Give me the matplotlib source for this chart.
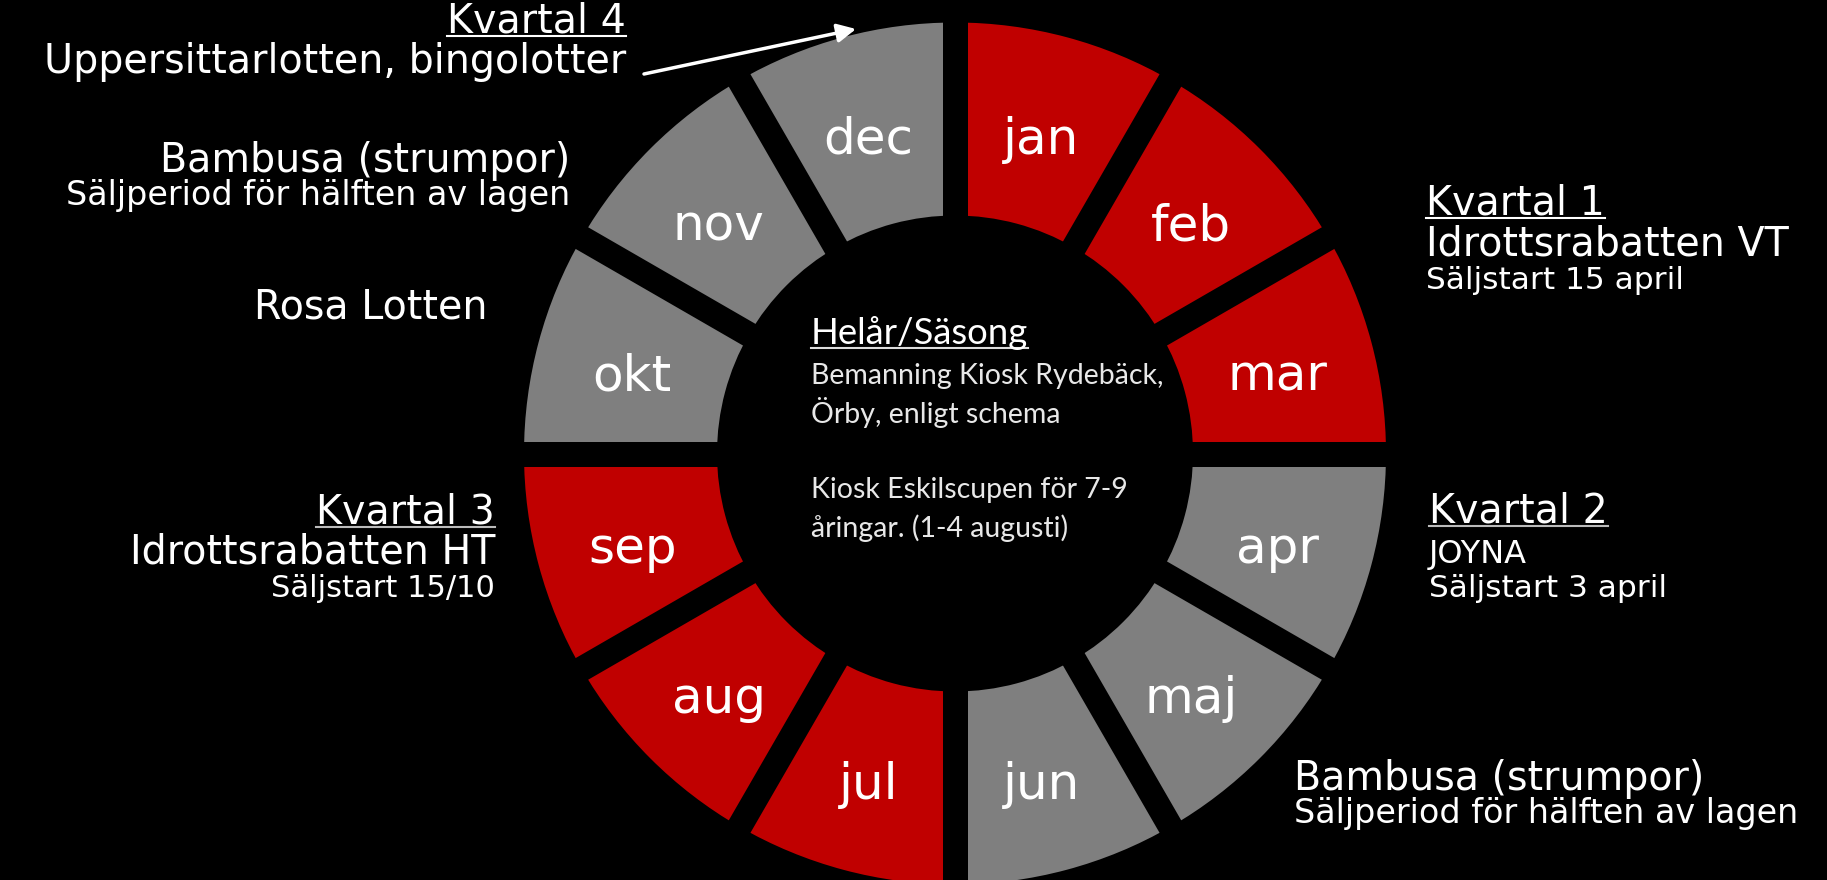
import matplotlib
matplotlib.use("Agg")
import matplotlib.pyplot as plt
import numpy as np

# ---- data ----
months = ["jan", "feb", "mar", "apr", "maj", "jun",
          "jul", "aug", "sep", "okt", "nov", "dec"]
month_share = [1, 1, 1, 1, 1, 1, 1, 1, 1, 1, 1, 1]
quarter = [1, 1, 1, 2, 2, 2, 3, 3, 3, 4, 4, 4]

center_title = "Helår/Säsong"
center_lines = ["Bemanning Kiosk Rydebäck,", "Örby, enligt schema", "",
                "Kiosk Eskilscupen för 7-9", "åringar. (1-4 augusti)"]

q1_lines = ["Kvartal 1", "Idrottsrabatten VT", "Säljstart 15 april"]
q2_lines = ["Kvartal 2", "JOYNA", "Säljstart 3 april"]
q3_lines = ["Kvartal 3", "Idrottsrabatten HT", "Säljstart 15/10"]
q4_lines = ["Kvartal 4", "Uppersittarlotten, bingolotter"]
bambusa_lines = ["Bambusa (strumpor)", "Säljperiod för hälften av lagen"]
rosa_line = "Rosa Lotten"

# ---- style ----
W, H = 1827, 880
RED = "#C00000"
GRAY = "#7F7F7F"
quarter_colors = {1: RED, 2: GRAY, 3: RED, 4: GRAY}
cx, cy = 955, H - 453.5
R_OUT, R_IN = 431, 238
FONT = "DejaVu Sans"
BIG, SMALL = 28.5, 22.5

fig = plt.figure(figsize=(W / 100, H / 100), dpi=100, facecolor="black")
ax = fig.add_axes([0, 0, 1, 1])
ax.set_facecolor("black")

wedges, texts = ax.pie(month_share, labels=months, radius=R_OUT, center=(cx, cy),
                       startangle=90, counterclock=False,
                       colors=[quarter_colors[q] for q in quarter],
                       labeldistance=0.775,
                       wedgeprops=dict(width=R_OUT - R_IN, edgecolor="none"),
                       textprops=dict(color="white", fontsize=36, family=FONT))
for t in texts:
    x, y = t.get_position()
    t.set_position((x, y - 9))
    t.set_ha("center")
    t.set_va("center")

# black gaps between the months
for k in range(len(months) // 2):
    a = np.deg2rad(90 - k * 360 / len(months))
    ax.plot([cx - (R_OUT + 20) * np.cos(a), cx + (R_OUT + 20) * np.cos(a)],
            [cy - (R_OUT + 20) * np.sin(a), cy + (R_OUT + 20) * np.sin(a)],
            color="black", lw=18, solid_capstyle="butt")

ax.set_xlim(0, W)
ax.set_ylim(0, H)
ax.set_aspect("auto")
ax.axis("off")


def Y(y):
    return H - y


def underline(t, color="white"):
    fig.canvas.draw()
    bb = t.get_window_extent(renderer=fig.canvas.get_renderer())
    x, y = t.get_position()
    ax.plot([bb.x0, bb.x1], [y - 4, y - 4], color=color, lw=1.5)


def block(lines, x, baselines, sizes, ha):
    out = []
    for line, b, s in zip(lines, baselines, sizes):
        out.append(ax.text(x, Y(b), line, color="white", fontsize=s, family=FONT,
                           ha=ha, va="baseline"))
    return out


# right side
t = block(q1_lines, 1426, [214, 255, 289], [BIG, BIG, SMALL], "left")
underline(t[0])
t = block(q2_lines, 1429, [522, 563, 597], [BIG, 23, SMALL], "left")
underline(t[0], "#bbbbbb")
block(bambusa_lines, 1294, [790, 823], [BIG, 24], "left")

# left side
t = block(q4_lines, 626, [32, 73], [BIG, BIG], "right")
underline(t[0])
block(bambusa_lines, 570, [172, 205], [BIG, 24], "right")
block([rosa_line], 488, [318], [BIG], "right")
t = block(q3_lines, 495, [523, 563, 597], [BIG, BIG, 22], "right")
underline(t[0], "#bbbbbb")

ax.annotate("", xy=(856, Y(29)), xytext=(644, Y(74)),
            arrowprops=dict(arrowstyle="-|>", color="white", lw=2.5,
                            mutation_scale=28, shrinkA=0, shrinkB=0))

# centre text
ct = ax.text(811, Y(344), center_title, color="white", fontsize=26.3,
             family="Lato", ha="left", va="baseline")
underline(ct, "#dddddd")
for line, b in zip(center_lines, [384, 423, 460, 498, 537]):
    ax.text(811, Y(b), line, color="#e8e8e8", fontsize=20.5, family="Lato",
            ha="left", va="baseline")

fig.savefig("out.png", dpi=100, facecolor="black")
